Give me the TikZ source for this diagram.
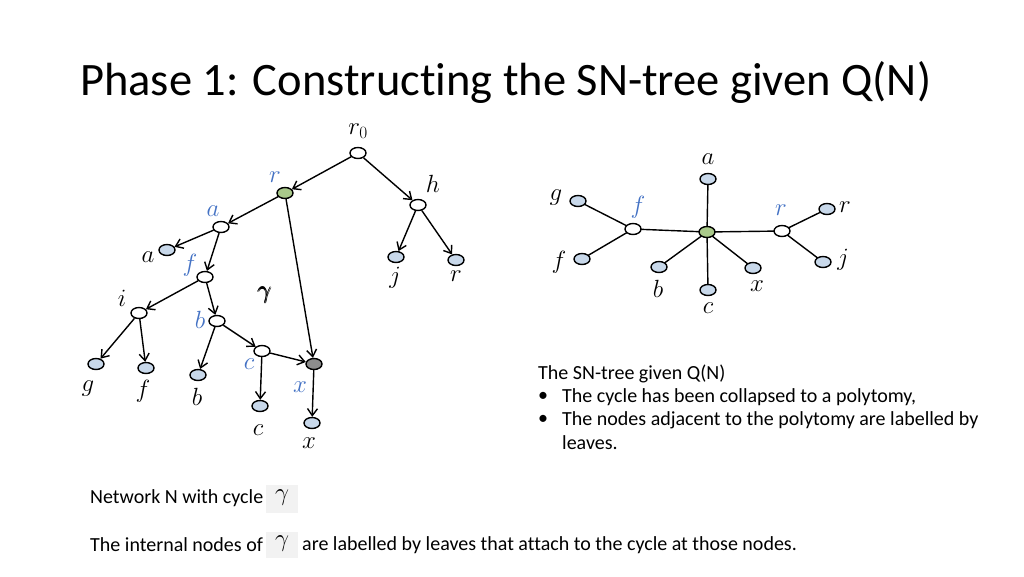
\documentclass[tikz,border=0pt]{standalone}
\usepackage{amsmath}
\usepackage{fontspec}
\setmainfont{Carlito}[Ligatures=NoCommon]
\usetikzlibrary{arrows.meta,shapes.geometric}
\definecolor{leaf}{HTML}{C8D8EA}
\definecolor{grn}{HTML}{A9C98A}
\definecolor{gry}{HTML}{8C8C8C}
\definecolor{lbl}{HTML}{4472C4}
\begin{document}
\begin{tikzpicture}[x=1pt,y=-1pt,
  nd/.style={ellipse,draw,line width=1.4pt,minimum width=16pt,minimum height=11pt,inner sep=0pt,fill=white},
  lfs/.style={nd,fill=leaf},
  ar/.style={-{Straight Barb[length=7pt,width=10pt]},line width=1.4pt},
  ed/.style={line width=1.4pt},
  ml/.style={font=\fontsize{25}{25}\selectfont},
  bls/.style={ml,text=lbl},
  txt/.style={font=\fontsize{20}{23}\selectfont,anchor=west,inner sep=0pt}]
\useasboundingbox (0,0) rectangle (1024,576);
\node[anchor=base west,inner sep=0pt,font=\fontsize{46.5}{46.5}\selectfont] (title) at (80,95) {Phase 1: Constructing the SN-tree given Q(N)};
% left tree
\node[nd] (r0) at (358,153) {};
\node[nd,fill=grn] (r) at (285,193) {};
\node[nd] (h) at (418,205) {};
\node[nd] (an) at (221,227) {};
\node[lfs] (al) at (167,250) {};
\node[nd] (fn) at (205,277) {};
\node[lfs] (jl) at (396,257) {};
\node[lfs] (rl) at (456,260) {};
\node[nd] (in) at (139,313) {};
\node[nd] (bn) at (217,321) {};
\node[nd] (cn) at (262,351) {};
\node[nd,fill=gry] (xn) at (314,364) {};
\node[lfs] (gl) at (96,364) {};
\node[lfs] (fl) at (146,368) {};
\node[lfs] (bl) at (198,375) {};
\node[lfs] (cl) at (260,406) {};
\node[lfs] (xl) at (312,423) {};
\foreach \a/\b in {r0/r,r0/h,h/jl,h/rl,r/an,r/xn,an/al,an/fn,fn/in,fn/bn,in/gl,in/fl,bn/bl,bn/cn,cn/cl,cn/xn,xn/xl}
  \draw[ar] (\a) -- (\b);
\node[ml] (lr0) at (358,131) {$r_0$};
\node[bls] (lr) at (275,177) {$r$};
\node[ml] (lh) at (433,184) {$h$};
\node[bls] (la) at (213,211) {$a$};
\node[ml] (lal) at (148,257) {$a$};
\node[bls] (lf) at (190,265) {$f$};
\node[ml] (li) at (122,298) {$i$};
\node[ml] (lgam) at (265,295) {$\pmb{\gamma}$};
\node[bls] (lb) at (200,320) {$b$};
\node[bls] (lc) at (249,364) {$c$};
\node[bls] (lx) at (300,387) {$x$};
\node[ml] (lg) at (88,389) {$g$};
\node[ml] (lfl) at (143,391) {$f$};
\node[ml] (lbl) at (197,397) {$b$};
\node[ml] (lcl) at (258,430) {$c$};
\node[ml] (lxl) at (309,443) {$x$};
\node[ml] (ljl) at (395,278) {$j$};
\node[ml] (lrl) at (456,276) {$r$};
% right tree: edges first, nodes on top
\coordinate (C) at (707,232);
\coordinate (F) at (633,229);
\coordinate (R) at (782,231);
\coordinate (A2) at (708,179);
\coordinate (G2) at (578,201);
\coordinate (F2) at (582,259);
\coordinate (B2) at (659,267);
\coordinate (C2) at (708,290);
\coordinate (X2) at (753,268);
\coordinate (R2) at (827,209);
\coordinate (J2) at (823,262);
\foreach \a/\b in {C/F,C/R,C/A2,C/B2,C/C2,C/X2,F/G2,F/F2,R/R2,R/J2}
  \draw[ed] (\a) -- (\b);
\node[nd,fill=grn] (Cn) at (C) {};
\node[nd] (Fn) at (F) {};
\node[nd] (Rn) at (R) {};
\foreach \p in {A2,G2,F2,B2,C2,X2,R2,J2}
  \node[lfs] (\p n) at (\p) {};
\node[ml] (ra) at (708,159) {$a$};
\node[ml] (rg) at (556,198) {$g$};
\node[ml] (rf) at (559,262) {$f$};
\node[ml] (rb) at (658,289) {$b$};
\node[ml] (rc) at (708,308) {$c$};
\node[ml] (rx) at (757,286) {$x$};
\node[ml] (rr) at (845,207) {$r$};
\node[ml] (rj) at (843,260) {$j$};
\node[bls] (rfb) at (638,207) {$f$};
\node[bls] (rrb) at (781,210) {$r$};
% texts
\node[txt] (t1) at (538,374) {The SN-tree given Q(N)};
\node[txt] (b1) at (538,397) {•};
\node[txt] (t2) at (562,397) {The cycle has been collapsed to a polytomy,};
\node[txt] (b2) at (538,420) {•};
\node[txt] (t3) at (562,420) {The nodes adjacent to the polytomy are labelled by};
\node[txt] (t4) at (562,443) {leaves.};
\node[txt] (t5) at (90,498) {Network N with cycle};
\fill[gray!10] (266,485) rectangle (298,513);
\node[ml] (g1) at (282,498) {$\gamma$};
\node[txt] (t6) at (90,545) {The internal nodes of};
\fill[gray!10] (266,532) rectangle (298,558);
\node[ml] (g2) at (282,544) {$\gamma$};
\node[txt] (t7) at (302,545) {are labelled by leaves that attach to the cycle at those nodes.};
\end{tikzpicture}
\end{document}
